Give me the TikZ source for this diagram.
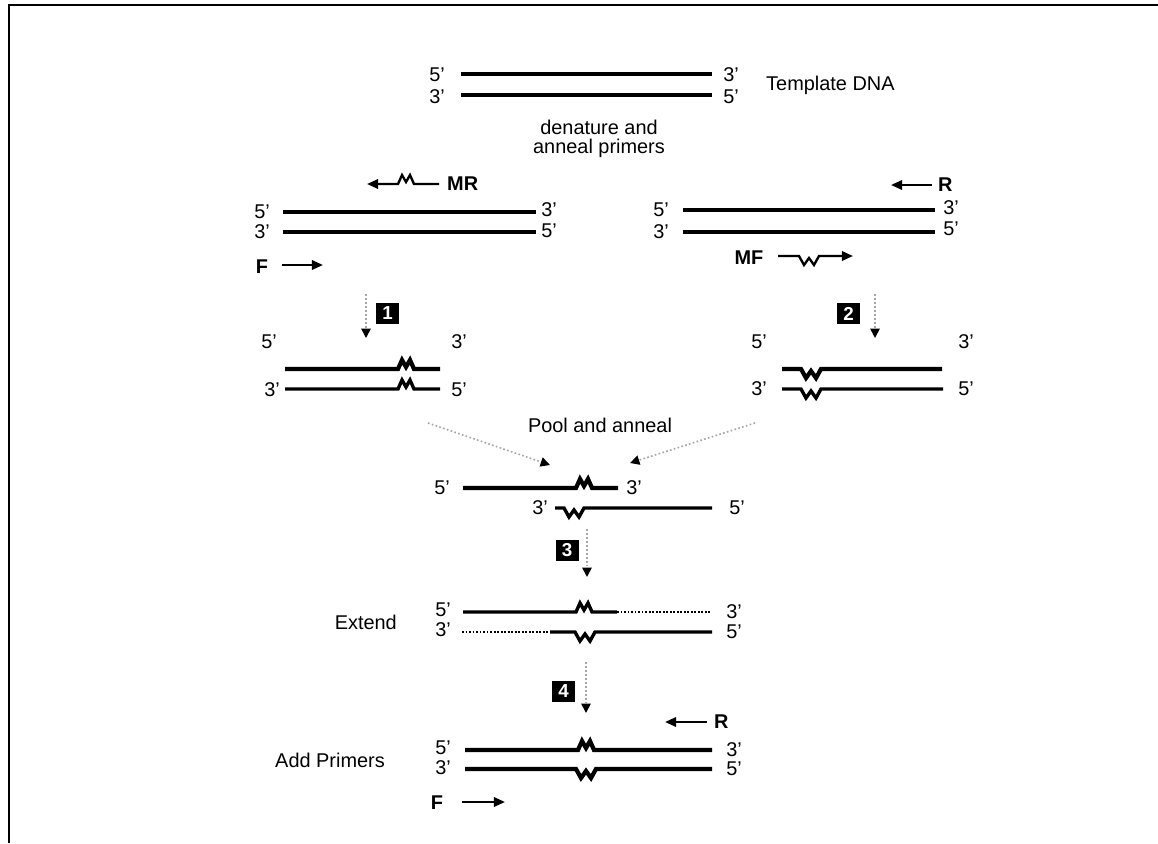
\documentclass[tikz,border=0pt]{standalone}
\usepackage{fontspec}
\setmainfont{Liberation Sans}
\usetikzlibrary{arrows.meta}
\begin{document}
\begin{tikzpicture}[x=0.3mm,y=-0.3mm,
  txt/.style={font=\fontsize{17}{16}\selectfont, inner sep=0pt},
  lbl/.style={font=\fontsize{17}{16}\selectfont\bfseries, inner sep=0pt},
  thickstrand/.style={line width=3.6pt},
  strand/.style={line width=2.9pt},
  extdots/.style={line width=2.4pt, dash pattern=on 1.6pt off 1.4pt},
  primerR/.style={line width=2pt, -{Triangle[length=9.5pt,width=8pt]}},
  primerL/.style={line width=2pt, {Triangle[length=9.5pt,width=8pt]}-},
  steparrow/.style={gray!70, line width=1.4pt, dotted, -{Triangle[length=8pt,width=8pt,color=black,fill=black]}},
  stepbox/.style={fill=black, text=white, font=\fontsize{16}{16}\selectfont\bfseries, minimum width=6.9mm, minimum height=6.3mm, inner sep=0pt},
  frame/.style={line width=1.8pt},
  zm/.style={insert path={-- ++(4,-9) -- ++(4,7) -- ++(4,-7) -- ++(4,9)}},
  zw/.style={insert path={-- ++(5,9) -- ++(5,-7) -- ++(5,7) -- ++(5,-9)}}
]
\useasboundingbox (0,0) rectangle (1158,843);
% frame
\coordinate (fa) at (9,843); \coordinate (fb) at (9,5); \coordinate (fc) at (1158,5);
\draw[frame] (fa) -- (fb) -- (fc);

% ---------- template ----------
\coordinate (t1a) at (461,74); \coordinate (t1b) at (712,74);
\coordinate (t2a) at (461,95); \coordinate (t2b) at (712,95);
\draw[thickstrand] (t1a) -- (t1b);
\draw[strand] (t2a) -- (t2b);
\node[txt] (t5l) at (437,75) {5'};
\node[txt] (t3l) at (437,97) {3'};
\node[txt] (t3r) at (731,75) {3'};
\node[txt] (t5r) at (731,97) {5'};
\node[txt, anchor=west] (tdna) at (766,85) {Template DNA};
\node[txt, align=center] (den) at (599,139) {denature and\\anneal primers};

% ---------- left block ----------
\coordinate (mrE) at (367,184); \coordinate (mrZ) at (398,184); \coordinate (mrS) at (439,184);
\draw[primerL] (mrE) -- (mrZ) [zm] -- (mrS);
\node[lbl, anchor=west] (mr) at (447,184) {MR};
\coordinate (l1a) at (283,212); \coordinate (l1b) at (536,212);
\coordinate (l2a) at (283,232); \coordinate (l2b) at (536,232);
\draw[strand] (l1a) -- (l1b);
\draw[strand] (l2a) -- (l2b);
\node[txt] (l5l) at (262,212) {5'};
\node[txt] (l3l) at (262,232) {3'};
\node[txt] (l3r) at (549,210) {3'};
\node[txt] (l5r) at (549,231) {5'};
\node[lbl] (f1) at (262,267) {F};
\coordinate (f1a) at (282,265); \coordinate (f1b) at (323,265);
\draw[primerR] (f1a) -- (f1b);

% ---------- right block ----------
\coordinate (r1a) at (932,185); \coordinate (r1b) at (891,185);
\draw[primerR] (r1a) -- (r1b);
\node[lbl, anchor=west] (r1) at (938,185) {R};
\coordinate (rr1a) at (683,210); \coordinate (rr1b) at (935,210);
\coordinate (rr2a) at (683,232); \coordinate (rr2b) at (935,232);
\draw[strand] (rr1a) -- (rr1b);
\draw[strand] (rr2a) -- (rr2b);
\node[txt] (r5l) at (661,210) {5'};
\node[txt] (r3l) at (661,232) {3'};
\node[txt] (r3r) at (951,208) {3'};
\node[txt] (r5r) at (951,229) {5'};
\node[lbl] (mf) at (749,258) {MF};
\coordinate (mfa) at (778,256); \coordinate (mfz) at (799,256); \coordinate (mfb) at (853,256);
\draw[primerR] (mfa) -- (mfz) [zw] -- (mfb);

% ---------- step 1 ----------
\node[stepbox] (s1) at (387.5,313.5) {1};
\coordinate (s1a) at (366,294); \coordinate (s1b) at (366,338);
\draw[steparrow] (s1a) -- (s1b);
\node[txt] (p15l) at (269,342) {5'};
\node[txt] (p13r) at (459,342) {3'};
\coordinate (p1a) at (285,369); \coordinate (p1z) at (398,369); \coordinate (p1b) at (440,369);
\draw[thickstrand] (p1a) -- (p1z) [zm] -- (p1b);
\coordinate (p2a) at (285,389); \coordinate (p2z) at (398,389); \coordinate (p2b) at (440,389);
\draw[strand] (p2a) -- (p2z) [zm] -- (p2b);
\node[txt] (p13l) at (272,390) {3'};
\node[txt] (p15r) at (459,390) {5'};

% ---------- step 2 ----------
\node[stepbox] (s2) at (848.5,313.5) {2};
\coordinate (s2a) at (875,294); \coordinate (s2b) at (875,338);
\draw[steparrow] (s2a) -- (s2b);
\node[txt] (q15l) at (759,342) {5'};
\node[txt] (q13r) at (966,342) {3'};
\coordinate (q1a) at (782,369); \coordinate (q1z) at (801,369); \coordinate (q1b) at (942,369);
\draw[thickstrand] (q1a) -- (q1z) [zw] -- (q1b);
\coordinate (q2a) at (782,389); \coordinate (q2z) at (801,389); \coordinate (q2b) at (943,389);
\draw[strand] (q2a) -- (q2z) [zw] -- (q2b);
\node[txt] (q13l) at (759,389) {3'};
\node[txt] (q15r) at (966,389) {5'};

% ---------- pool ----------
\coordinate (pa1) at (428,423); \coordinate (pa2) at (550,465);
\coordinate (pb1) at (755,423); \coordinate (pb2) at (630,463);
\draw[steparrow] (pa1) -- (pa2);
\draw[steparrow] (pb1) -- (pb2);
\node[txt] (pool) at (600,425) {Pool and anneal};
\coordinate (o1a) at (463,488); \coordinate (o1z) at (576,488); \coordinate (o1b) at (618,488);
\draw[thickstrand] (o1a) -- (o1z) [zm] -- (o1b);
\node[txt] (o5l) at (442,488) {5'};
\node[txt] (o3r) at (634,488) {3'};
\coordinate (o2a) at (555,508); \coordinate (o2z) at (564,508); \coordinate (o2b) at (712,508);
\draw[strand] (o2a) -- (o2z) [zw] -- (o2b);
\node[txt] (o3l) at (540,508) {3'};
\node[txt] (o5r) at (737,508) {5'};

% ---------- step 3 / extend ----------
\node[stepbox] (s3) at (567,550) {3};
\coordinate (s3a) at (587,529); \coordinate (s3b) at (587,577);
\draw[steparrow] (s3a) -- (s3b);
\node[txt, anchor=east] (ext) at (397,622) {Extend};
\coordinate (e1a) at (463,612); \coordinate (e1z) at (576,612); \coordinate (e1m) at (617,612); \coordinate (e1b) at (710,612);
\draw[strand] (e1a) -- (e1z) [zm] -- (e1m);
\draw[extdots] (e1m) -- (e1b);
\coordinate (e2a) at (462,632); \coordinate (e2m) at (550,632); \coordinate (e2z) at (575,632); \coordinate (e2b) at (712,632);
\draw[extdots] (e2a) -- (e2m);
\draw[strand] (e2m) -- (e2z) [zw] -- (e2b);
\node[txt] (e5l) at (443,610) {5'};
\node[txt] (e3l) at (443,630) {3'};
\node[txt] (e3r) at (734,612) {3'};
\node[txt] (e5r) at (734,632) {5'};

% ---------- step 4 / add primers ----------
\node[stepbox] (s4) at (563.5,691) {4};
\coordinate (s4a) at (586,662); \coordinate (s4b) at (586,713);
\draw[steparrow] (s4a) -- (s4b);
\coordinate (r2a) at (707,722); \coordinate (r2b) at (665,722);
\draw[primerR] (r2a) -- (r2b);
\node[lbl, anchor=west] (r2) at (714,722) {R};
\node[txt, anchor=west] (addp) at (275,760) {Add Primers};
\coordinate (a1a) at (465,750); \coordinate (a1z) at (578,750); \coordinate (a1b) at (712,750);
\draw[thickstrand] (a1a) -- (a1z) [zm] -- (a1b);
\coordinate (a2a) at (465,769); \coordinate (a2z) at (576,769); \coordinate (a2b) at (712,769);
\draw[thickstrand] (a2a) -- (a2z) [zw] -- (a2b);
\node[txt] (a5l) at (443,748) {5'};
\node[txt] (a3l) at (443,768) {3'};
\node[txt] (a3r) at (734,750) {3'};
\node[txt] (a5r) at (734,769) {5'};
\node[lbl] (f2) at (437,803) {F};
\coordinate (f2a) at (462,802); \coordinate (f2b) at (505,802);
\draw[primerR] (f2a) -- (f2b);
\end{tikzpicture}
\end{document}
